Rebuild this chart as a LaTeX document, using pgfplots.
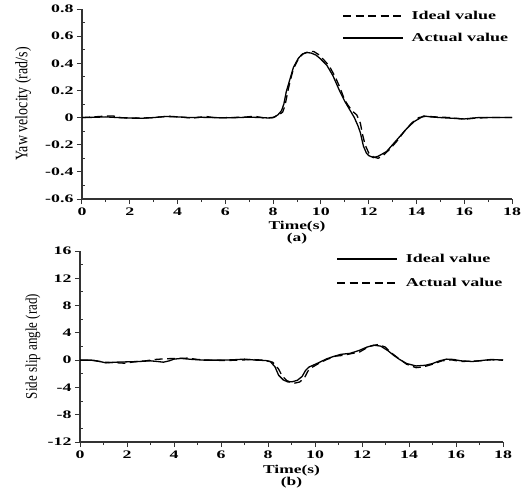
\documentclass[border=0pt]{standalone}
\usepackage{fontspec}
\setmainfont{Liberation Serif}
\usepackage{pgfplots}
\pgfplotsset{compat=1.18}

\pgfplotsset{
  yawstyle/.style={
    scale only axis,
    axis x line*=bottom, axis y line*=left,
    axis line style={line width=1.1pt, black!80},
    tick style={line width=1pt, black!80},
    tick align=outside,
    major tick length=5pt, minor tick length=3pt,
    minor y tick style={xshift=3pt},
    xmin=0, xmax=18,
    xtick={0,2,...,18}, minor x tick num=1,
    /pgf/number format/assume math mode=true,
    tick label style={font=\bfseries\fontsize{11.5}{12}\selectfont},
    xticklabel={\scalebox{1.55}[1]{\pgfmathprintnumber{\tick}}},
    yticklabel={\scalebox{1.55}[1]{\pgfmathprintnumber{\tick}}},
    xlabel style={font=\bfseries\fontsize{12}{12}\selectfont, align=center, anchor=center},
    ylabel style={font=\fontsize{14}{14}\selectfont, anchor=center},
    legend style={draw=none, fill=none, font=\bfseries\fontsize{12}{12}\selectfont,
      anchor=north west, row sep=8pt, inner sep=0pt},
    legend cell align=left,
    legend image code/.code={\draw[#1] (0pt,0pt) -- (60pt,0pt); \path (66pt,0pt);},
    clip=false,
  },
  ideal/.style={black, line width=1.3pt},
  dsh/.style={black, line width=1.3pt, dash pattern=on 8pt off 4.5pt},
}

\begin{document}
\begin{tikzpicture}
\useasboundingbox (0,0) rectangle (527pt,-495pt);

% (a) yaw velocity
\begin{axis}[yawstyle,
  at={(82pt,-199pt)}, anchor=south west,
  width=430pt, height=190pt,
  ymin=-0.6, ymax=0.8,
  ytick={-0.6,-0.4,-0.2,0,0.2,0.4,0.6,0.8}, minor y tick num=1,
  yticklabel style={/pgf/number format/fixed, /pgf/number format/precision=1},
  xlabel={\scalebox{1.45}[1]{Time(s)}\\\scalebox{1.45}[1]{(a)}},
  xlabel style={at={(axis description cs:0.5,-0.178)}},
  ylabel={\scalebox{1}[1.25]{Yaw velocity (rad/s)}},
  ylabel style={at={(axis description cs:-0.137,0.5)}},
  legend style={at={(axis description cs:0.605,1.0)}},
]
\addplot[dsh] coordinates {
(0,0) (0.5,0.005) (0.9,0.01) (1.3,0.012) (1.6,0) (2.0,-0.005) (2.6,-0.003)
(3.0,0) (3.6,0.01) (4.2,0.003) (4.6,-0.004) (5.2,0.008) (5.6,-0.002) (6.2,0)
(6.8,0.003) (7.2,0.01) (7.6,-0.002) (8.0,0) (8.2,0.015) (8.4,0.04) (8.5,0.09)
(8.6,0.18) (8.7,0.26) (8.85,0.36) (9.05,0.43) (9.25,0.47) (9.5,0.485) (9.7,0.487)
(9.9,0.465) (10.1,0.43) (10.35,0.38) (10.6,0.30) (10.8,0.22) (10.95,0.15)
(11.1,0.10) (11.3,0.05) (11.5,0.02) (11.65,-0.04) (11.75,-0.13) (11.85,-0.20)
(12.0,-0.26) (12.2,-0.29) (12.4,-0.30) (12.6,-0.28) (12.9,-0.23) (13.2,-0.17)
(13.5,-0.10) (13.8,-0.04) (14.1,0) (14.4,0.01) (14.8,0.005) (15.4,0)
(16.0,-0.012) (16.4,-0.005) (17.0,0) (18.0,0)
};
\addplot[ideal] coordinates {
(0,0) (0.5,0.002) (1.0,0.005) (1.5,0) (2.0,-0.003) (2.5,-0.005) (3.0,0)
(3.5,0.008) (4.0,0.005) (4.5,0) (5.0,0.002) (5.5,0) (6.0,-0.002) (6.5,0)
(7.0,0.003) (7.5,0) (7.8,-0.003) (8.0,0) (8.2,0.02) (8.35,0.05) (8.45,0.10)
(8.55,0.19) (8.65,0.25) (8.85,0.37) (9.05,0.435) (9.2,0.465) (9.4,0.48)
(9.6,0.475) (9.8,0.46) (10.0,0.43) (10.25,0.385) (10.5,0.31) (10.8,0.19)
(11.0,0.12) (11.2,0.06) (11.4,0) (11.55,-0.06) (11.65,-0.11) (11.78,-0.21)
(11.9,-0.26) (12.0,-0.28) (12.2,-0.295) (12.4,-0.285) (12.75,-0.25)
(13.0,-0.20) (13.3,-0.14) (13.6,-0.08) (13.9,-0.03) (14.3,0.012) (14.6,0.005)
(15.0,0) (15.5,-0.005) (16.0,-0.01) (16.3,-0.005) (16.6,0) (17.0,0) (18.0,0)
};
\legend{\scalebox{1.5}[1]{Ideal value},\scalebox{1.5}[1]{Actual value}}
\end{axis}

% (b) side slip angle
\begin{axis}[yawstyle,
  at={(80pt,-442pt)}, anchor=south west,
  width=423pt, height=191pt,
  ymin=-12, ymax=16,
  ytick={-12,-8,-4,0,4,8,12,16}, minor y tick num=1,
  xlabel={\scalebox{1.45}[1]{Time(s)}\\\scalebox{1.45}[1]{(b)}},
  xlabel style={at={(axis description cs:0.5,-0.183)}},
  ylabel={\scalebox{1}[1.25]{Side slip angle (rad)}},
  ylabel style={at={(axis description cs:-0.111,0.5)}, font=\fontsize{13}{13}\selectfont},
  legend style={at={(axis description cs:0.606,0.995)}, row sep=10pt},
]
\addplot[ideal] coordinates {
(0,0) (0.5,0) (0.85,-0.2) (1.1,-0.4) (1.5,-0.3) (2.0,-0.25) (2.5,-0.2)
(3.0,-0.1) (3.3,-0.2) (3.55,-0.3) (3.8,-0.1) (4.0,0.15) (4.3,0.25) (4.8,0.1)
(5.3,0) (6.0,0) (6.5,0.05) (7.0,0.15) (7.5,0) (7.9,-0.05) (8.1,-0.2)
(8.3,-1.0) (8.45,-2.2) (8.65,-2.9) (8.85,-3.2) (9.05,-3.15) (9.25,-2.95)
(9.45,-2.4) (9.6,-1.5) (9.75,-1.0) (9.95,-0.7) (10.2,-0.3) (10.5,0.2)
(10.8,0.55) (11.1,0.85) (11.5,1.0) (11.9,1.45) (12.2,1.9) (12.5,2.2)
(12.8,2.05) (13.1,1.4) (13.35,0.7) (13.6,0.1) (13.9,-0.5) (14.3,-0.85)
(14.7,-0.75) (15.0,-0.5) (15.3,-0.1) (15.6,0.15) (15.9,0.1) (16.2,-0.1)
(16.7,-0.2) (17.1,-0.05) (17.5,0.1) (18,0)
};
\addplot[dsh] coordinates {
(0,0) (0.6,-0.05) (1.0,-0.3) (1.4,-0.35) (1.9,-0.45) (2.3,-0.25) (2.8,-0.1)
(3.2,0.1) (3.6,0.2) (4.1,0.25) (4.6,0.3) (5.0,0.1) (5.5,0) (6.2,-0.05)
(6.8,0) (7.3,0.1) (7.8,0) (8.2,-0.3) (8.45,-1.3) (8.6,-2.3) (8.8,-3.0)
(9.1,-3.4) (9.35,-3.2) (9.55,-2.6) (9.7,-1.6) (9.9,-1.0) (10.2,-0.4)
(10.5,0.1) (10.9,0.6) (11.2,0.7) (11.6,1.0) (11.9,1.2) (12.3,2.0) (12.7,2.3)
(13.0,1.9) (13.2,1.2) (13.5,0.4) (13.9,-0.6) (14.3,-1.1) (14.6,-1.0)
(15.0,-0.6) (15.4,-0.1) (15.8,0.05) (16.2,-0.2) (16.6,-0.15) (17.0,-0.1)
(17.5,0.05) (18,0)
};
\legend{\scalebox{1.5}[1]{Ideal value},\scalebox{1.5}[1]{Actual value}}
\end{axis}
\end{tikzpicture}
\end{document}
